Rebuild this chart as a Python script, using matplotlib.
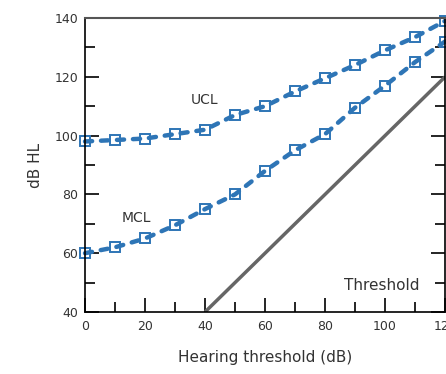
import numpy as np
import matplotlib.pyplot as plt
from matplotlib.ticker import MultipleLocator

# hearing threshold (dB)
levels = [0, 10, 20, 30, 40, 50, 60, 70, 80, 90, 100, 110, 120]
ucl = [98, 98.5, 99, 100.5, 102, 107, 110, 115, 119.5, 124, 129, 133.5, 139]
mcl = [60, 62, 65, 69.5, 75, 80, 88, 95, 100.5, 109.5, 117, 125, 132]
thresh_x = [40, 120]
thresh_y = [40, 120]

blue = '#2E75B6'

fig = plt.figure(figsize=(4.46, 3.74), dpi=100)
ax = fig.add_axes([0.1906, 0.1658, 0.8074, 0.7861])

ax.plot(thresh_x, thresh_y, color='#666666', lw=2.5, solid_capstyle='butt')
for vals in (ucl, mcl):
    ax.plot(levels, vals, ls='none', marker='s', ms=7.5, mfc='white',
            mec=blue, mew=1.4, clip_on=False)
    ax.plot(levels, vals, color=blue, lw=3.2, ls=(0, (1.6, 2.0)),
            dash_capstyle='round', clip_on=False)

ax.set_xlim(0, 120)
ax.set_ylim(40, 140)
ax.xaxis.set_major_locator(MultipleLocator(20))
ax.xaxis.set_minor_locator(MultipleLocator(10))
ax.yaxis.set_major_locator(MultipleLocator(20))
ax.yaxis.set_minor_locator(MultipleLocator(10))
ax.tick_params(which='both', direction='in', right=True, top=False,
               labelsize=9, labelcolor='#333333', color='black')
ax.tick_params(axis='x', pad=6)
ax.tick_params(axis='y', pad=5)
ax.tick_params(which='major', length=10, width=1.2)
ax.tick_params(which='minor', length=7, width=1.2)

ax.spines['top'].set_color('#555555')
ax.spines['top'].set_linewidth(1.5)
for s in ('left', 'bottom', 'right'):
    ax.spines[s].set_color('black')
    ax.spines[s].set_linewidth(1.2)

ax.text(40, 112, 'UCL', fontsize=10, color='#333333', ha='center', va='center')
ax.text(17, 72, 'MCL', fontsize=10, color='#333333', ha='center', va='center')
ax.text(99, 49, 'Threshold', fontsize=11, color='#333333', ha='center', va='center')

ax.set_ylabel('dB HL', fontsize=11, color='#333333', labelpad=8)
ax.set_xlabel('Hearing threshold (dB)', fontsize=11, color='#333333', labelpad=12)

plt.savefig('out.png', dpi=100)
